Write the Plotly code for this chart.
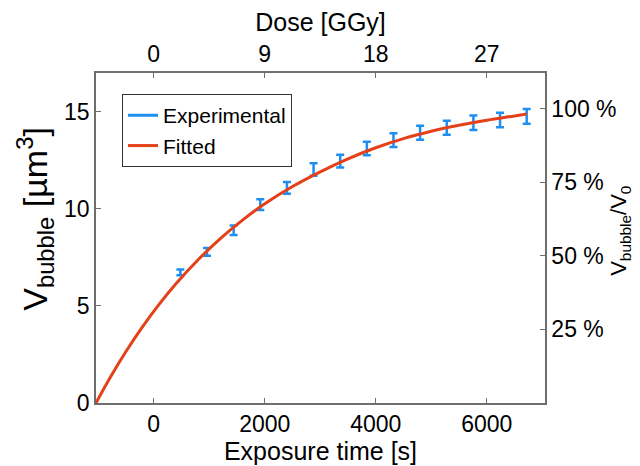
import plotly.graph_objects as go

# Data
time_s = [480, 960, 1440, 1920, 2400, 2880, 3360, 3840, 4320, 4800, 5280, 5760, 6240, 6720]
volume = [6.73, 7.78, 8.90, 10.22, 11.08, 12.03, 12.46, 13.11, 13.54, 13.92, 14.18, 14.44, 14.58, 14.76]
volume_err = [0.15, 0.20, 0.25, 0.28, 0.30, 0.32, 0.33, 0.35, 0.35, 0.36, 0.36, 0.37, 0.37, 0.38]

fit_time = [-1040, -800, -500, -200, 100, 400, 800, 1200, 1600, 2000, 2500, 3000,
            3500, 4000, 4500, 5000, 5500, 6000, 6500, 6720]
fit_volume = [0.0, 1.24, 2.65, 3.93, 5.09, 6.14, 7.38, 8.47, 9.42, 10.26, 11.15, 11.91,
              12.58, 13.15, 13.62, 14.00, 14.31, 14.57, 14.79, 14.89]

x_ticks = [0, 2000, 4000, 6000]
y_ticks = [0, 5, 10, 15]
dose_ticks = [0, 9, 18, 27]
pct_ticks = [25, 50, 75, 100]

dose_per_s = 0.0045
v0 = 15.17
x_range = [-1040, 7050]
y_range = [0, 17]

blue = "#1E8FF0"
red = "#E4401A"
axcol = "#6E6E6E"
font = "Liberation Sans, Arial, sans-serif"

fig = go.Figure()
fig.add_trace(go.Scatter(
    x=time_s, y=volume, mode="markers",
    marker=dict(size=2, color="rgba(0,0,0,0)"),
    error_y=dict(type="data", array=volume_err, color=blue, thickness=2.5, width=4),
    showlegend=False))
fig.add_trace(go.Scatter(x=[None], y=[None], mode="lines", name="Experimental",
                         line=dict(color=blue, width=3)))
fig.add_trace(go.Scatter(x=fit_time, y=fit_volume, mode="lines", name="Fitted",
                         line=dict(color=red, width=3, shape="spline")))
# invisible trace for the secondary (top / right) axes
fig.add_trace(go.Scatter(x=[dose_ticks[0]], y=[pct_ticks[0]], xaxis="x2", yaxis="y2",
                         mode="markers", marker=dict(opacity=0), showlegend=False,
                         hoverinfo="skip"))

axis_common = dict(showline=True, linecolor=axcol, linewidth=1.5, ticks="inside",
                   ticklen=5, tickcolor=axcol, tickwidth=1.2, showgrid=False,
                   zeroline=False, tickfont=dict(size=23, color="black", family=font))

fig.update_layout(
    width=640, height=466,
    margin=dict(l=88, r=103, t=65, b=71),
    paper_bgcolor="white", plot_bgcolor="white",
    font=dict(family=font, color="black"),
    xaxis=dict(range=x_range, tickvals=x_ticks, ticktext=[str(v) for v in x_ticks],
               title=dict(text="Exposure time [s]", font=dict(size=25), standoff=0),
               **axis_common),
    yaxis=dict(range=y_range, tickvals=y_ticks, **axis_common),
    xaxis2=dict(overlaying="x", side="top", anchor="y",
                range=[x_range[0] * dose_per_s, x_range[1] * dose_per_s],
                tickvals=dose_ticks,
                title=dict(text="Dose [GGy]", font=dict(size=25), standoff=2),
                **axis_common),
    yaxis2=dict(overlaying="y", side="right", anchor="x",
                range=[y_range[0] / v0 * 100, y_range[1] / v0 * 100],
                tickvals=pct_ticks, ticktext=[f"{v} %" for v in pct_ticks],
                **axis_common),
    legend=dict(x=0.058, y=0.936, xanchor="left", yanchor="top",
                bordercolor="#333333", borderwidth=1, bgcolor="white",
                font=dict(size=21, color="black"), tracegroupgap=0,
                itemwidth=30),
    annotations=[
        dict(text="V<sub>bubble</sub> [µm<sup>3</sup>]", textangle=-90,
             xref="paper", yref="paper", x=-0.136, y=0.558,
             xanchor="center", yanchor="middle", showarrow=False,
             font=dict(size=34, color="black", family=font)),
        dict(text="V<sub>bubble</sub>/V<sub>0</sub>", textangle=-90,
             xref="paper", yref="paper", x=1.168, y=0.523,
             xanchor="center", yanchor="middle", showarrow=False,
             font=dict(size=22, color="black", family=font)),
    ],
)

fig.write_html("out.html")
